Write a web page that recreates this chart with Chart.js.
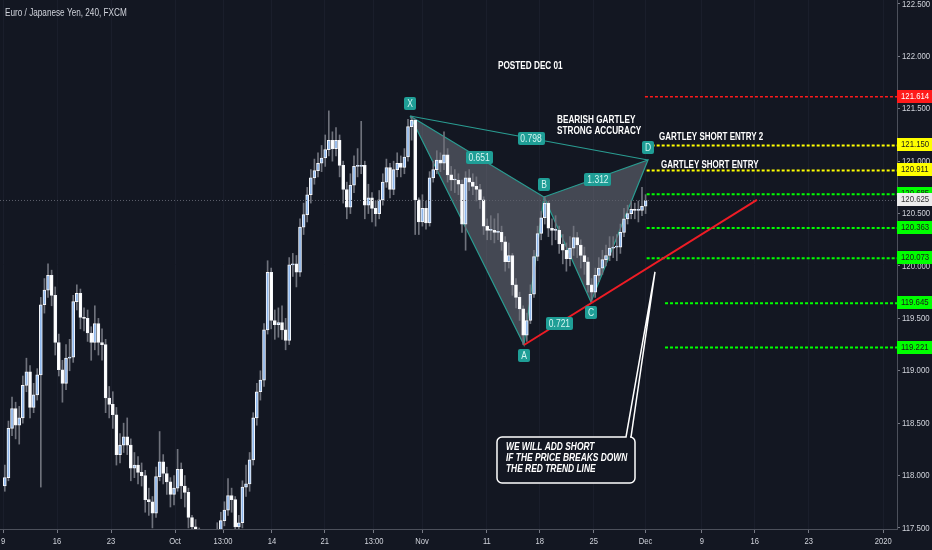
<!DOCTYPE html>
<html>
<head>
<meta charset="utf-8">
<script src="https://cdn.jsdelivr.net/npm/chart.js@4.4.0/dist/chart.umd.min.js"></script>
<style>
  html, body { margin: 0; padding: 0; background: #131722; }
  canvas { display: block; }
</style>
</head>
<body>
<canvas id="chart" width="932" height="550"></canvas>
<script>
// EUR/JPY candles, 3 per trading day, day 0 = Mon Sep 9
const firstOpen = 117.90;
const closes = [
  117.98, 118.45, 118.64, 118.48, 118.55, 118.86, 118.99, 118.65, 118.77, 118.96,
  119.63, 119.77, 119.91, 119.72, 119.27, 119.01, 118.88, 119.12, 119.13, 119.66,
  119.74, 119.51, 119.50, 119.36, 119.27, 119.45, 119.27, 119.25, 118.74, 118.68,
  118.58, 118.20, 118.29, 118.37, 118.29, 118.07, 118.10, 118.03, 118.00, 117.77,
  117.75, 117.64, 117.99, 118.13, 118.02, 117.94, 117.82, 117.88, 118.06, 117.90,
  117.84, 117.60, 117.51, 117.48, 117.43, 117.39, 117.34, 117.37, 117.41, 117.48,
  117.57, 117.67, 117.81, 117.77, 117.51, 117.55, 117.89, 117.92, 118.15, 118.55,
  118.80, 118.91, 119.39, 119.94, 119.48, 119.44, 119.46, 119.39, 119.29, 120.01,
  120.02, 119.94, 120.37, 120.49, 120.68, 120.84, 120.91, 120.98, 121.03, 121.11,
  121.20, 121.12, 121.20, 120.96, 120.73, 120.56, 120.77, 120.95, 120.95, 120.96,
  120.58, 120.65, 120.55, 120.50, 120.63, 120.80, 120.94, 120.73, 120.92, 120.98,
  120.94, 121.04, 121.33, 121.39, 120.63, 120.42, 120.55, 120.41, 120.84, 120.92,
  121.01, 120.98, 121.06, 120.87, 120.82, 120.82, 120.78, 120.40, 120.84, 120.80,
  120.76, 120.73, 120.63, 120.38, 120.34, 120.34, 120.32, 120.32, 120.23, 120.04,
  120.10, 119.82, 119.70, 119.59, 119.34, 119.48, 119.73, 120.09, 120.31, 120.46,
  120.60, 120.36, 120.34, 120.34, 120.21, 120.15, 120.07, 120.17, 120.27, 120.20,
  120.10, 120.04, 119.82, 119.75, 119.91, 119.98, 120.06, 120.10, 120.17, 120.18,
  120.18, 120.32, 120.45, 120.50, 120.54, 120.53, 120.53, 120.57, 120.625
];
const highs = [
  118.10, 118.52, 118.75, 118.70, 118.66, 118.95, 119.12, 119.05, 118.88, 119.02,
  119.70, 119.88, 120.02, 119.96, 119.80, 119.35, 119.10, 119.25, 119.30, 119.72,
  119.82, 119.78, 119.60, 119.58, 119.42, 119.62, 119.50, 119.40, 119.30, 118.85,
  118.80, 118.65, 118.40, 118.50, 118.55, 118.35, 118.22, 118.18, 118.12, 118.05,
  117.88, 117.80, 118.08, 118.42, 118.20, 118.08, 117.98, 118.00, 118.25, 118.12,
  118.00, 117.88, 117.62, 117.58, 117.50, 117.47, 117.44, 117.45, 117.47, 117.55,
  117.65, 117.75, 117.97, 117.88, 117.80, 117.62, 117.95, 118.10, 118.22, 118.60,
  118.88, 119.00, 119.45, 120.05, 119.98, 119.58, 119.60, 119.62, 119.50, 120.08,
  120.12, 120.10, 120.45, 120.60, 120.75, 120.92, 121.02, 121.08, 121.15, 121.25,
  121.48, 121.28, 121.32, 121.25, 121.00, 120.80, 120.88, 121.05, 121.12, 121.38,
  121.00, 120.78, 120.70, 120.62, 120.72, 120.88, 121.02, 120.98, 121.00, 121.08,
  121.05, 121.12, 121.40, 121.43, 121.40, 120.65, 120.68, 120.62, 120.90, 121.00,
  121.10, 121.08, 121.28, 121.12, 120.95, 120.92, 120.88, 120.82, 120.90, 120.92,
  120.88, 120.85, 120.78, 120.66, 120.45, 120.48, 120.45, 120.50, 120.38, 120.28,
  120.22, 120.12, 119.88, 119.75, 119.62, 119.55, 119.82, 120.15, 120.38, 120.52,
  120.66, 120.62, 120.45, 120.48, 120.38, 120.30, 120.22, 120.28, 120.38, 120.32,
  120.25, 120.18, 120.08, 119.88, 119.98, 120.08, 120.15, 120.20, 120.28, 120.28,
  120.30, 120.40, 120.55, 120.58, 120.62, 120.60, 120.62, 120.75, 120.68
];
const lows = [
  117.85, 117.95, 118.38, 118.35, 118.30, 118.50, 118.80, 118.55, 118.60, 118.72,
  117.89, 119.55, 119.70, 119.62, 119.15, 118.95, 118.70, 118.82, 119.00, 119.08,
  119.58, 119.40, 119.38, 119.28, 119.10, 119.20, 119.15, 119.10, 118.60, 118.55,
  118.45, 118.10, 118.12, 118.22, 118.20, 117.95, 117.98, 117.92, 117.90, 117.65,
  117.62, 117.50, 117.60, 117.95, 117.92, 117.82, 117.70, 117.72, 117.85, 117.78,
  117.70, 117.50, 117.40, 117.38, 117.32, 117.28, 117.24, 117.26, 117.30, 117.35,
  117.42, 117.52, 117.62, 117.65, 117.45, 117.44, 117.50, 117.80, 117.85, 118.10,
  118.48, 118.72, 118.85, 119.35, 119.40, 119.30, 119.32, 119.30, 119.20, 119.25,
  119.90, 119.80, 119.90, 120.30, 120.42, 120.60, 120.78, 120.85, 120.90, 120.95,
  121.05, 121.00, 121.05, 120.85, 120.60, 120.45, 120.50, 120.70, 120.85, 120.88,
  120.45, 120.50, 120.42, 120.38, 120.45, 120.58, 120.75, 120.65, 120.68, 120.85,
  120.85, 120.88, 121.00, 121.20, 120.30, 120.30, 120.38, 120.35, 120.38, 120.80,
  120.88, 120.90, 120.92, 120.80, 120.72, 120.70, 120.68, 120.32, 120.15, 120.72,
  120.68, 120.62, 120.55, 120.30, 120.25, 120.25, 120.22, 120.25, 120.15, 119.95,
  119.98, 119.72, 119.60, 119.48, 119.25, 119.28, 119.45, 119.70, 120.05, 120.25,
  120.40, 120.28, 120.20, 120.25, 120.12, 120.02, 119.95, 120.00, 120.10, 120.08,
  119.98, 119.92, 119.75, 119.66, 119.70, 119.85, 119.92, 120.00, 120.05, 120.08,
  120.05, 120.12, 120.28, 120.40, 120.45, 120.45, 120.42, 120.48, 120.50
];

// time axis (trading days from Sep 9)
const tickDays = [0, 5, 10, 15.93, 20.37, 24.9, 29.8, 34.35, 38.8, 44.8, 49.7, 54.7, 59.5, 64.7, 69.6, 74.6, 81.5];
const tickLabels = ['9', '16', '23', 'Oct', '13:00', '14', '21', '13:00', 'Nov', '11', '18', '25', 'Dec', '9', '16', '23', '2020'];
const priceTicks = [117.5, 118.0, 118.5, 119.0, 119.5, 120.0, 120.5, 121.0, 121.5, 122.0, 122.5];

// gartley pattern
const patternNames = ['X', 'A', 'B', 'C', 'D'];
const patternDays = [37.69, 48.24, 50.09, 54.44, 59.72];
const patternPrices = [121.431, 119.246, 120.658, 119.656, 121.011];
const ratioLabels = ['0.651', '0.798', '1.312', '0.721'];

// red trend line
const trendDays = [48.24, 69.81];
const trendPrices = [119.246, 120.63];

// horizontal levels
const levelPrices = [121.614, 121.150, 120.911, 120.685, 120.363, 120.073, 119.645, 119.221];
const levelFrom = [59.44, 59.6, 59.6, 59.6, 59.6, 59.6, 61.3, 61.3];
const levelColors = ['#ff1a1a', '#ffff00', '#ffff00', '#00ff00', '#00ff00', '#00ff00', '#00ff00', '#00ff00'];
const lastPrice = 120.625;

const xMin = -0.28, xMax = 82.78;
const SANS = '"Liberation Sans", Arial, sans-serif';
const TEAL = '#2a9d92';

const candleDays = closes.map((c, i) => i / 3 + 1 / 6);
const opens = closes.map((c, i) => i === 0 ? firstOpen : closes[i - 1]);

const pt = i => ({ x: patternDays[i], y: patternPrices[i] });

const datasets = [];

// pattern triangles XAB and BCD
[[0, 1, 2, 0], [2, 3, 4, 2]].forEach(tri => {
  datasets.push({
    type: 'line',
    data: tri.map(pt),
    borderColor: TEAL,
    borderWidth: 1.2,
    backgroundColor: 'rgba(150,153,162,0.38)',
    fill: 'shape',
    pointRadius: 0,
    tension: 0,
    order: 20
  });
});

// wicks
datasets.push({
  type: 'bar',
  data: candleDays.map((d, i) => ({ x: d, y: [lows[i], highs[i]] })),
  backgroundColor: '#6f727c',
  barThickness: 1,
  grouped: false,
  order: 15
});

// bodies: white outline, light blue fill for rising candles
datasets.push({
  type: 'bar',
  data: candleDays.map((d, i) => ({ x: d, y: [opens[i], closes[i]] })),
  backgroundColor: closes.map((c, i) => c >= opens[i] ? '#8fb8ee' : '#ffffff'),
  borderColor: '#f4f6fa',
  borderWidth: 1,
  borderSkipped: false,
  barThickness: 3,
  minBarLength: 1,
  grouped: false,
  order: 14
});

// X-D leg
datasets.push({
  type: 'line',
  data: [pt(0), pt(4)],
  borderColor: TEAL,
  borderWidth: 1.2,
  pointRadius: 0,
  order: 5
});

// current price line
datasets.push({
  type: 'line',
  data: [{ x: xMin, y: lastPrice }, { x: xMax, y: lastPrice }],
  borderColor: '#5d606b',
  borderWidth: 1,
  borderDash: [1, 2],
  pointRadius: 0,
  order: 6
});

// levels
levelPrices.forEach((p, i) => {
  datasets.push({
    type: 'line',
    data: [{ x: levelFrom[i], y: p }, { x: xMax, y: p }],
    borderColor: levelColors[i],
    borderWidth: i === 0 ? 1.5 : 2,
    borderDash: [3, 2],
    pointRadius: 0,
    order: 4
  });
});

// trend line
datasets.push({
  type: 'line',
  data: trendDays.map((d, i) => ({ x: d, y: trendPrices[i] })),
  borderColor: '#ee1c25',
  borderWidth: 2,
  pointRadius: 0,
  order: 3
});

// text squeezed horizontally (no condensed font installed)
function txt(ctx, s, x, y, font, color, sx, align) {
  ctx.save();
  ctx.font = font;
  ctx.fillStyle = color;
  ctx.textAlign = align || 'left';
  ctx.textBaseline = 'middle';
  ctx.translate(x, y);
  ctx.scale(sx, 1);
  ctx.fillText(s, 0, 0);
  ctx.restore();
}

function tag(ctx, text, cx, cy) {
  const font = '10px ' + SANS;
  ctx.font = font;
  const w = Math.round(ctx.measureText(text).width * 0.85 + 6);
  ctx.fillStyle = '#1f9e96';
  ctx.beginPath();
  ctx.roundRect(Math.round(cx - w / 2), Math.round(cy - 7), w, 13, 2);
  ctx.fill();
  txt(ctx, text, cx, Math.round(cy - 7) + 7, font, '#d4f5f2', 0.85, 'center');
}

const overlay = {
  id: 'overlay',
  afterDatasetsDraw(chart) {
    const { ctx, scales: { x, y } } = chart;
    const px = d => x.getPixelForValue(d);
    const py = p => y.getPixelForValue(p);
    ctx.save();

    // ratio tags on leg midpoints: XB, XD, BD, AC
    [[0, 2], [0, 4], [2, 4], [1, 3]].forEach(([a, b], i) => {
      const cx = (px(patternDays[a]) + px(patternDays[b])) / 2;
      const cy = (py(patternPrices[a]) + py(patternPrices[b])) / 2;
      tag(ctx, ratioLabels[i], cx + 2, cy + 1);
    });
    // point tags
    patternNames.forEach((n, i) => {
      const below = n === 'A' || n === 'C';
      tag(ctx, n, px(patternDays[i]), py(patternPrices[i]) + (below ? 11 : -12));
    });

    // notes
    const bold = 'bold 10px ' + SANS;
    txt(ctx, 'POSTED DEC 01', px(45.83), py(121.908), bold, '#ffffff', 0.82);
    txt(ctx, 'BEARISH GARTLEY', px(51.3), py(121.393), bold, '#ffffff', 0.82);
    txt(ctx, 'STRONG ACCURACY', px(51.3), py(121.393) + 11, bold, '#ffffff', 0.82);
    txt(ctx, 'GARTLEY SHORT ENTRY 2', px(60.74), py(121.231), bold, '#ffffff', 0.8);
    txt(ctx, 'GARTLEY SHORT ENTRY', px(60.93), py(120.964), bold, '#ffffff', 0.8);

    // callout box with tail
    const l = px(45.74), r = px(58.52), t = py(118.368), b = py(117.929);
    const tipX = px(60.37), tipY = py(119.943), rad = 5;
    ctx.strokeStyle = '#ffffff';
    ctx.lineWidth = 1.5;
    ctx.fillStyle = '#131722';
    ctx.beginPath();
    ctx.moveTo(l + rad, t);
    ctx.lineTo(r - 9, t);
    ctx.lineTo(tipX, tipY);
    ctx.lineTo(r - 4, t);
    ctx.arcTo(r, t, r, t + rad, rad);
    ctx.arcTo(r, b, r - rad, b, rad);
    ctx.arcTo(l, b, l, b - rad, rad);
    ctx.arcTo(l, t, l + rad, t, rad);
    ctx.closePath();
    ctx.fill();
    ctx.stroke();
    ['WE WILL ADD SHORT', 'IF THE PRICE BREAKS DOWN', 'THE RED TREND LINE'].forEach((s, i) => {
      txt(ctx, s, l + 9, t + 10 + i * 11, 'italic bold 10px ' + SANS, '#ffffff', 0.84);
    });
    ctx.restore();
  },
  afterDraw(chart) {
    const { ctx, scales: { x, y }, chartArea } = chart;
    const axisFont = '9.5px ' + SANS;

    // axis labels
    y.ticks.forEach(tk => {
      txt(ctx, tk.value.toFixed(3), chartArea.right + 5, y.getPixelForValue(tk.value), axisFont, '#d1d4dc', 0.82);
    });
    x.ticks.forEach((tk, i) => {
      txt(ctx, tickLabels[i], x.getPixelForValue(tk.value), chartArea.bottom + 12, axisFont, '#d1d4dc', 0.8, 'center');
    });

    // price tags on the right axis
    const box = (p, bg, fg) => {
      const cy = Math.round(y.getPixelForValue(p));
      ctx.fillStyle = bg;
      ctx.fillRect(chartArea.right, cy - 7, 35, 13);
      txt(ctx, p.toFixed(3), chartArea.right + 4, cy - 0.5, axisFont, fg, 0.82);
    };
    levelPrices.forEach((p, i) => box(p, levelColors[i], i === 0 ? '#ffffff' : '#1a1a1a'));
    box(lastPrice, '#ececec', '#333333');

    // title
    txt(ctx, 'Euro / Japanese Yen, 240, FXCM', 5, 13, '10.5px ' + SANS, '#d1d4dc', 0.78);
  }
};

new Chart(document.getElementById('chart'), {
  type: 'bar',
  data: { datasets },
  plugins: [overlay],
  options: {
    responsive: false,
    animation: false,
    events: [],
    layout: { padding: 0 },
    plugins: { legend: { display: false }, tooltip: { enabled: false } },
    scales: {
      x: {
        type: 'linear',
        min: xMin,
        max: xMax,
        offset: false,
        afterFit: s => { s.height = 21; },
        afterBuildTicks: s => { s.ticks = tickDays.map(v => ({ value: v })); },
        grid: { color: '#1a1e2b', tickColor: '#787b86', tickLength: 4, offset: false },
        border: { color: '#4c505b' },
        ticks: { display: false, autoSkip: false }
      },
      y: {
        position: 'right',
        min: 117.49,
        max: 122.538,
        afterFit: s => { s.width = 35; },
        afterBuildTicks: s => { s.ticks = priceTicks.map(v => ({ value: v })); },
        grid: { drawOnChartArea: false, tickColor: '#787b86', tickLength: 3 },
        border: { color: '#4c505b' },
        ticks: { display: false }
      }
    }
  }
});
</script>
</body>
</html>
